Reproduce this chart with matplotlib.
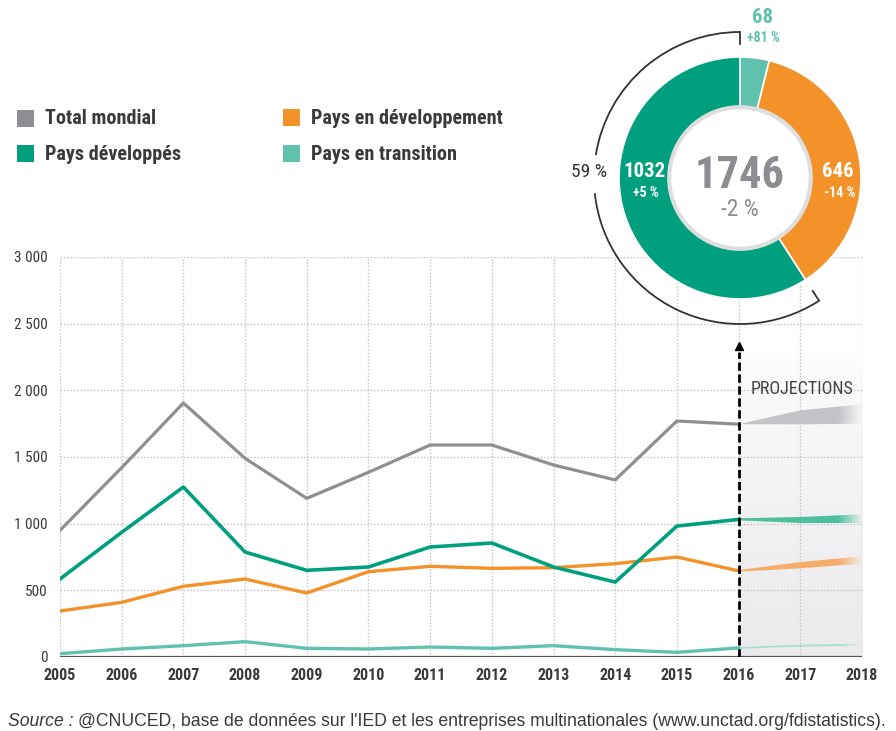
import numpy as np
import matplotlib
matplotlib.use("Agg")
import matplotlib.pyplot as plt
from matplotlib.patches import Rectangle, Circle, Arc, Polygon
from matplotlib.colors import to_rgb
from matplotlib import font_manager

# Flux d'IDE mondiaux (milliards de dollars)
years = [2005, 2006, 2007, 2008, 2009, 2010, 2011, 2012, 2013, 2014, 2015, 2016]
total = [950, 1420, 1905, 1490, 1190, 1385, 1590, 1590, 1440, 1328, 1770, 1746]
developpes = [585, 935, 1275, 787, 650, 675, 825, 855, 675, 562, 982, 1032]
developpement = [345, 410, 530, 585, 480, 640, 680, 665, 670, 700, 750, 646]
transition = [25, 60, 85, 115, 65, 60, 75, 65, 85, 55, 35, 68]

# Projections 2016-2018 : bornes basse / haute
proj_years = [2016, 2017, 2018]
proj_total_lo = [1746, 1745, 1750]
proj_total_hi = [1746, 1850, 1895]
proj_dev_lo = [1025, 1005, 1005]
proj_dev_hi = [1040, 1050, 1070]
proj_ped_lo = [640, 665, 700]
proj_ped_hi = [652, 712, 755]
proj_tr_lo = [62, 78, 85]
proj_tr_hi = [74, 92, 100]

# Répartition 2016
donut_values = [68, 646, 1032]

GRAY = "#8f8f93"
GREEN = "#00a07e"
ORANGE = "#f39229"
TEAL = "#5ec2ac"
TXT = "#3a3a3a"

installed = {f.name for f in font_manager.fontManager.ttflist}
NARROW = [f for f in ["Roboto Condensed", "Liberation Sans Narrow", "Roboto"]
          if f in installed] + ["DejaVu Sans"]
plt.rcParams["font.family"] = NARROW

W, H = 896, 731
fig = plt.figure(figsize=(W / 100, H / 100), dpi=100)


def fx(x):
    return x / W


def fy(y):
    return 1 - y / H


# ---- graphique principal ----
ax = fig.add_axes([fx(60), fy(657), (862 - 60) / W, 400 / H])
for s in ax.spines.values():
    s.set_visible(False)

# zone grisée des projections
ramp = np.linspace(0, 1, 256)
shade = np.zeros((256, 1, 4))
shade[..., :3] = to_rgb("#d6d6da")
shade[:, 0, 3] = 0.5 * (1 - ramp) ** 0.7
ax.imshow(shade, extent=[2016, 2018, 0, 2340], aspect="auto",
          origin="lower", zorder=0.5)
ax.set_xlim(2005, 2018)
ax.set_ylim(0, 3000)

grid_kw = dict(color="#c9c9c9", lw=1.0, ls=(0, (1.2, 1.2)), zorder=1)
for yv in range(500, 3001, 500):
    ax.plot([2005, 2018], [yv, yv], **grid_kw)
for xv in range(2005, 2019):
    ax.plot([xv, xv], [0, 3000], **grid_kw)

ax.plot([2005, 2018], [0, 0], color="#555555", lw=1.6, zorder=3,
        solid_capstyle="butt")


def band(lo, hi, color, alpha=1.0):
    pts = list(zip(proj_years, hi)) + list(zip(proj_years[::-1], lo[::-1]))
    poly = Polygon(pts, closed=True, fc="none", ec="none")
    ax.add_patch(poly)
    img = np.zeros((2, 200, 4))
    img[..., :3] = to_rgb(color)
    xs = np.linspace(0, 1, 200)
    img[..., 3] = np.clip((1 - xs) / 0.2, 0, 1) * alpha
    im = ax.imshow(img, extent=[2016, 2018, min(lo) - 5, max(hi) + 5],
                   aspect="auto", origin="lower", zorder=2)
    im.set_clip_path(poly)


band(proj_total_lo, proj_total_hi, "#c4c4c7")
band(proj_dev_lo, proj_dev_hi, "#4cbf9c")
band(proj_ped_lo, proj_ped_hi, "#f6ad6a")
band(proj_tr_lo, proj_tr_hi, "#9ad9c9", 0.8)

ax.plot(years, transition, color=TEAL, lw=2.4, zorder=4)
ax.plot(years, developpement, color=ORANGE, lw=2.4, zorder=4)
ax.plot(years, developpes, color=GREEN, lw=2.6, zorder=4)
ax.plot(years, total, color=GRAY, lw=2.3, zorder=4)

# flèche pointillée de 2016
ax.plot([2016, 2016], [0, 2290], color="black", lw=2.0,
        ls=(0, (3, 1.3)), zorder=5)
ax.plot([2016], [2330], marker="^", color="black", ms=6, zorder=5)
ax.text(2016.2, 2010, "PROJECTIONS", fontsize=13, color="#444444",
        ha="left", va="center")

ax.set_xticks(range(2005, 2019))
ax.set_yticks(range(0, 3001, 500))
ax.set_yticklabels(["0", "500", "1 000", "1 500", "2 000", "2 500", "3 000"])
ax.tick_params(length=0, labelsize=11, colors=TXT)
ax.tick_params(axis="y", pad=9)
ax.tick_params(axis="x", pad=8, labelsize=11.5)
for lab in ax.get_xticklabels():
    lab.set_fontweight("bold")

# ---- légende ----
legend = [(17, 110, GRAY, "Total mondial"),
          (17, 145, GREEN, "Pays développés"),
          (283, 109, ORANGE, "Pays en développement"),
          (283, 145, TEAL, "Pays en transition")]
for x, y, c, t in legend:
    fig.add_artist(Rectangle((fx(x), fy(y + 17)), 17 / W, 17 / H,
                             transform=fig.transFigure, fc=c, ec="none"))
    fig.text(fx(x + 28), fy(y + 9), t, fontsize=14.5, fontweight="bold",
             color=TXT, ha="left", va="center")

# ---- anneau 2016 ----
R = 121
half = 160
dax = fig.add_axes([fx(740 - half), fy(178 + half), 2 * half / W, 2 * half / H])
lim = half / R
dax.axis("off")
dax.pie(donut_values, colors=[TEAL, ORANGE, GREEN], startangle=90,
        counterclock=False, radius=1,
        wedgeprops=dict(width=0.42, edgecolor="white", linewidth=1.2))
dax.set_xlim(-lim, lim)
dax.set_ylim(-lim, lim)
dax.set_aspect("equal")
dax.add_patch(Circle((0, 0), 0.585, fc="white", ec="#dedede", lw=3, zorder=3))

share = 100 * donut_values[2] / sum(donut_values)
end_ang = 90 + 360 * donut_values[2] / sum(donut_values)
ra = 146 / R
arc_kw = dict(color="#333333", lw=1.3)
dax.add_patch(Arc((0, 0), 2 * ra, 2 * ra, theta1=90, theta2=171, **arc_kw))
dax.add_patch(Arc((0, 0), 2 * ra, 2 * ra, theta1=186, theta2=end_ang, **arc_kw))
for ang in (90, end_ang):
    t = np.radians(ang)
    dax.plot([ra * np.cos(t), 1.11 * np.cos(t)], [ra * np.sin(t), 1.11 * np.sin(t)],
             **arc_kw)

dax.text(-1.25, 0.05, f"{share:.0f} %", fontsize=14, color="#333333",
         ha="center", va="center")
dax.text(0, 0.02, f"{sum(donut_values)}", fontsize=32, fontweight="bold",
         color="#8c8c91", ha="center", va="center", zorder=4)
dax.text(0, -0.26, "-2 %", fontsize=17, color="#8c8c91",
         ha="center", va="center", zorder=4)
dax.text(-0.79, 0.05, f"{donut_values[2]}", fontsize=15, fontweight="bold",
         color="white", ha="center", va="center")
dax.text(-0.78, -0.125, "+5 %", fontsize=10, fontweight="bold",
         color="white", ha="center", va="center")
dax.text(0.81, 0.05, f"{donut_values[1]}", fontsize=15, fontweight="bold",
         color="white", ha="center", va="center")
dax.text(0.825, -0.125, "-14 %", fontsize=10, fontweight="bold",
         color="white", ha="center", va="center")
dax.text(0.19, 1.33, f"{donut_values[0]}", fontsize=15, fontweight="bold",
         color=TEAL, ha="center", va="center", clip_on=False)
dax.text(0.195, 1.155, "+81 %", fontsize=10, fontweight="bold",
         color=TEAL, ha="center", va="center", clip_on=False)

# ---- source ----
SRC_FONT = ["Liberation Sans", "DejaVu Sans"]
src1 = fig.text(fx(8), fy(721), "Source :", fontsize=12.7, style="italic",
                color=TXT, family=SRC_FONT, ha="left", va="center")
fig.canvas.draw()
bb = src1.get_window_extent()
fig.text(bb.x1 / W + 5 / W, fy(721),
         "@CNUCED, base de données sur l'IED et les entreprises multinationales "
         "(www.unctad.org/fdistatistics).",
         fontsize=12.7, color=TXT, family=SRC_FONT, ha="left", va="center")

fig.savefig("out.png", dpi=100)
